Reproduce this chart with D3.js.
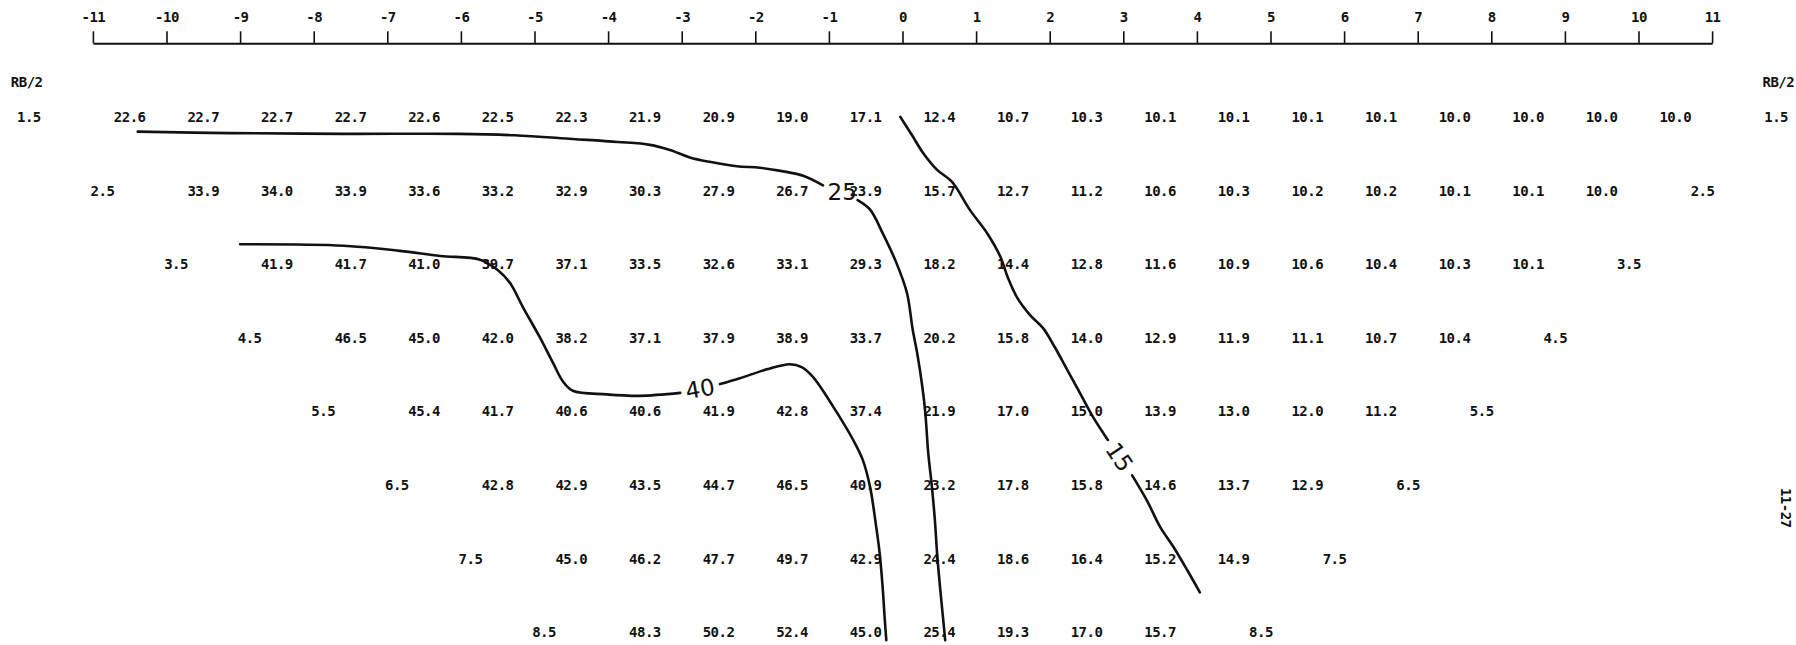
<!DOCTYPE html>
<html><head><meta charset="utf-8">
<script src="https://cdn.jsdelivr.net/npm/d3@7"></script>
<style>
html,body{margin:0;padding:0;background:#fff;overflow:hidden}
svg{display:block;background:#fff}
.t{font-family:"DejaVu Sans Mono","Liberation Mono",monospace;font-weight:bold;font-size:14px;letter-spacing:-0.5px;fill:#111}
.lab{font-family:"DejaVu Sans","Noto Sans",sans-serif;font-size:23px;fill:#111}
</style></head><body>
<svg id="c" width="1796" height="645"></svg>
<script>
// ---- data ----
const axisTicks  = [-11,-10,-9,-8,-7,-6,-5,-4,-3,-2,-1,0,1,2,3,4,5,6,7,8,9,10,11];
const axisLabels = ["-11","-10","-9","-8","-7","-6","-5","-4","-3","-2","-1","0","1","2","3","4","5","6","7","8","9","10","11"];
const rowRadii   = [1.5,2.5,3.5,4.5,5.5,6.5,7.5,8.5];
const rowLabels  = ["1.5","2.5","3.5","4.5","5.5","6.5","7.5","8.5"];
const headerLabel = "RB/2";
const sideNote = "11-27";

const row1_5 = [22.6,22.7,22.7,22.7,22.6,22.5,22.3,21.9,20.9,19.0,17.1,12.4,10.7,10.3,10.1,10.1,10.1,10.1,10.0,10.0,10.0,10.0];
const row2_5 = [33.9,34.0,33.9,33.6,33.2,32.9,30.3,27.9,26.7,23.9,15.7,12.7,11.2,10.6,10.3,10.2,10.2,10.1,10.1,10.0];
const row3_5 = [41.9,41.7,41.0,39.7,37.1,33.5,32.6,33.1,29.3,18.2,14.4,12.8,11.6,10.9,10.6,10.4,10.3,10.1];
const row4_5 = [46.5,45.0,42.0,38.2,37.1,37.9,38.9,33.7,20.2,15.8,14.0,12.9,11.9,11.1,10.7,10.4];
const row5_5 = [45.4,41.7,40.6,40.6,41.9,42.8,37.4,21.9,17.0,15.0,13.9,13.0,12.0,11.2];
const row6_5 = [42.8,42.9,43.5,44.7,46.5,40.9,23.2,17.8,15.8,14.6,13.7,12.9];
const row7_5 = [45.0,46.2,47.7,49.7,42.9,24.4,18.6,16.4,15.2,14.9];
const row8_5 = [48.3,50.2,52.4,45.0,25.4,19.3,17.0,15.7];
const rowValues = [row1_5,row2_5,row3_5,row4_5,row5_5,row6_5,row7_5,row8_5];

// contour lines, [x, R/2]
const contour25a = [[-10.39,1.70],[-9.15,1.72],[-7.59,1.73],[-6.04,1.73],[-5.27,1.75],[-4.48,1.80],[-3.87,1.84],[-3.43,1.88],[-3.16,1.95],[-2.89,2.05],[-2.62,2.11],[-2.25,2.17],[-1.94,2.19],[-1.62,2.24],[-1.35,2.30],[-1.08,2.43]];
const contour25b = [[-0.61,2.63],[-0.44,2.76],[-0.27,3.08],[-0.08,3.49],[0.06,3.89],[0.14,4.40],[0.20,4.71],[0.27,5.17],[0.31,5.52],[0.35,6.07],[0.40,6.53],[0.44,6.98],[0.47,7.43],[0.51,7.89],[0.55,8.30],[0.58,8.61]];
const contour40a = [[-9.00,3.23],[-7.59,3.25],[-6.83,3.32],[-6.28,3.39],[-5.74,3.44],[-5.50,3.58],[-5.33,3.76],[-5.16,4.08],[-4.93,4.49],[-4.75,4.84],[-4.61,5.10],[-4.48,5.22],[-4.02,5.27],[-3.57,5.29],[-3.02,5.25]];
const contour40b = [[-2.48,5.13],[-2.21,5.05],[-1.84,4.93],[-1.53,4.86],[-1.37,4.90],[-1.22,5.03],[-0.94,5.44],[-0.67,5.89],[-0.54,6.16],[-0.44,6.53],[-0.37,6.98],[-0.31,7.43],[-0.27,7.89],[-0.24,8.34],[-0.22,8.61]];
const contour15a = [[-0.03,1.50],[0.13,1.75],[0.28,1.99],[0.47,2.22],[0.67,2.38],[0.92,2.77],[1.15,3.08],[1.33,3.40],[1.43,3.68],[1.56,3.96],[1.73,4.19],[1.91,4.37],[2.07,4.63],[2.24,4.94],[2.41,5.25],[2.59,5.58],[2.79,5.89]];
const contour15b = [[3.12,6.37],[3.32,6.71],[3.50,7.07],[3.68,7.34],[3.87,7.66],[4.04,7.96]];
const contourLabels = [
  {text:"25", x:-0.82, r:2.51, angle:0},
  {text:"40", x:-2.75, r:5.19, angle:-10},
  {text:"15", x:2.95,  r:6.12, angle:56}
];

// ---- drawing ----
const svg = d3.select("#c");
const x = d3.scaleLinear().domain([-11,11]).range([92.9,1712.1]);
const y = d3.scaleLinear().domain([0.5,8.5]).range([43.3,632.1]);

const ax = svg.append("g").attr("transform",`translate(0,${y(0.5)})`)
  .call(d3.axisTop(x).tickValues(axisTicks).tickFormat((d,i)=>axisLabels[i])
        .tickSizeInner(12).tickSizeOuter(0).tickPadding(9));
ax.select(".domain").attr("stroke","#111").attr("stroke-width",2);
ax.selectAll(".tick line").attr("stroke","#111").attr("stroke-width",1.6);
ax.selectAll(".tick text").attr("class","t").attr("fill","#111");

// header labels
[-11.9, 11.9].forEach(xx=>{
  svg.append("text").attr("class","t").attr("x",x(xx)).attr("y",y(1.03))
    .attr("dy","0.36em").attr("text-anchor","middle").text(headerLabel);
});

// row labels and values
rowRadii.forEach((r,i)=>{
  const off = 13.37 - r;
  [-off, off].forEach(xx=>{
    svg.append("text").attr("class","t").attr("x",x(xx)).attr("y",y(r))
      .attr("dy","0.36em").attr("text-anchor","middle").text(rowLabels[i]);
  });
  const start = -10.5 + i;
  svg.append("g").selectAll("text").data(rowValues[i]).join("text")
    .attr("class","t")
    .attr("x",(d,j)=>x(start+j)).attr("y",y(r))
    .attr("dy","0.36em").attr("text-anchor","middle")
    .text(d=>d.toFixed(1));
});

// contours
const line = d3.line().x(d=>x(d[0])).y(d=>y(d[1])).curve(d3.curveCatmullRom.alpha(0.5));
[contour25a,contour25b,contour40a,contour40b,contour15a,contour15b].forEach(c=>{
  svg.append("path").attr("d",line(c)).attr("fill","none")
    .attr("stroke","#111").attr("stroke-width",2.6).attr("stroke-linecap","round");
});
contourLabels.forEach(l=>{
  svg.append("text").attr("class","lab")
    .attr("transform",`translate(${x(l.x)},${y(l.r)}) rotate(${l.angle})`)
    .attr("text-anchor","middle").attr("dy","0.36em").text(l.text);
});

// side note at the right edge
svg.append("text").attr("class","t")
  .attr("transform",`translate(${x(11.94)},${y(6.81)}) rotate(90)`)
  .attr("text-anchor","middle").attr("font-size","15px").text(sideNote);
</script>
</body></html>
